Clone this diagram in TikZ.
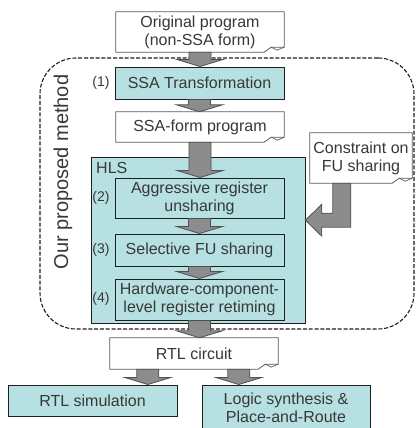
\documentclass[tikz,border=0pt]{standalone}
\usepackage{fontspec}
\setmainfont{Liberation Sans}
\usetikzlibrary{calc,backgrounds}
\definecolor{boxteal}{HTML}{B6E0E2}
\definecolor{textgray}{HTML}{383838}
\definecolor{boxline}{HTML}{1E1E1E}
\definecolor{docline}{HTML}{5A5A5A}
\definecolor{arrowfill}{HTML}{8C8C8C}
\definecolor{arrowline}{HTML}{505050}
\begin{document}
\begin{tikzpicture}[x=1pt,y=-1pt,
  txt/.style={font=\fontsize{16}{18}\selectfont, text=textgray, align=center, inner sep=0pt},
  lbl/.style={font=\fontsize{14}{16}\selectfont, text=textgray, inner sep=0pt},
  proc/.style={txt, draw=boxline, line width=1pt, fill=boxteal, minimum width=169, minimum height=32},
  doc/.style={txt},
  docshape/.style={draw=docline, line width=0.8pt, fill=white},
  hlsframe/.style={draw=boxline, line width=0.9pt, fill=boxteal, inner sep=0pt},
  methodframe/.style={draw=boxline, line width=1.1pt, dash pattern=on 4pt off 1.8pt, rounded corners=36pt, inner sep=0pt},
  blockarrow/.style={draw=arrowline, fill=arrowfill, line width=0.8pt,
    to path={($(\tikztostart)+(-11pt,0pt)$) -- ($(\tikztostart)+(11pt,0pt)$)
      -- ($(\tikztostart |- \tikztotarget)+(11pt,7pt)$) -- ($(\tikztostart |- \tikztotarget)+(23pt,7pt)$)
      -- (\tikztostart |- \tikztotarget)
      -- ($(\tikztostart |- \tikztotarget)+(-23pt,7pt)$) -- ($(\tikztostart |- \tikztotarget)+(-11pt,7pt)$) -- cycle}}
]
\useasboundingbox (0,0) rectangle (417,428);

% main nodes
\node[doc, minimum width=168, minimum height=40] (orig) at (200,32) {Original program\\(non-SSA form)};
\node[proc] (trans) at (199.5,83) {SSA Transformation};
\node[doc, minimum width=168, minimum height=30] (ssaf) at (200,127) {SSA-form program};
\node[proc, minimum height=40] (agg) at (199.5,198) {Aggressive register\\unsharing};
\node[proc] (sel) at (199.5,250) {Selective FU sharing};
\node[proc, minimum height=41] (hw) at (199.5,299.5) {Hardware-component-\\level register retiming};
\node[doc, minimum width=168, minimum height=31] (rtl) at (194,353.5) {RTL circuit};
\node[proc, minimum height=31] (sim) at (92.5,400.5) {RTL simulation};
\node[proc, minimum width=168, minimum height=46] (logic) at (286,408) {Logic synthesis \&\\Place-and-Route};
\node[doc, minimum width=102, minimum height=50] (cons) at (361,158) {Constraint on\\FU sharing};

\node[lbl] (l1) at (101,83) {(1)};
\node[lbl] (l2) at (101,198) {(2)};
\node[lbl] (l3) at (101,250) {(3)};
\node[lbl] (l4) at (101,299) {(4)};
\node[txt, anchor=west] (hlslabel) at (96,168) {HLS};
\node[txt, font=\fontsize{20}{22}\selectfont, rotate=90] (ours) at (63,172) {Our proposed method};

% frames behind the text
\begin{scope}[on background layer]
  \node[methodframe, minimum width=374, minimum height=271] (method) at (227,193.5) {};
  \node[hlsframe, minimum width=214, minimum height=166] (hls) at (198,240) {};
  \foreach \n in {orig,ssaf,rtl,cons}{
    \draw[docshape] (\n.north west) -- (\n.north east) -- ($(\n.south east)+(0,-5)$)
      -- ($(\n.south east)+(-13,-5)$) .. controls ($(\n.south east)+(-16,-3)$) .. ($(\n.south east)+(-20,0)$)
      -- (\n.south west) -- cycle;
    \draw[docline, line width=0.7pt] ($(\n.south east)+(0,-5)$) -- ($(\n.south east)+(-7,-2)$) -- ($(\n.south east)+(-13,-5)$);
  }
\end{scope}

% block arrows
\path[blockarrow] (orig.south) to (trans.north);
\path[blockarrow] (trans.south) to (ssaf.north);
\path[blockarrow] (ssaf.south) to (agg.north);
\path[blockarrow] (agg.south) to (sel.north);
\path[blockarrow] (sel.south) to (hw.north);
\path[blockarrow] (hw.south) to (rtl.north);
\coordinate (rtlL) at ($(rtl.south west)+(38,0)$);
\coordinate (rtlR) at ($(rtl.south west)+(129,0)$);
\path[blockarrow] (rtlL) to (sim.north);
\path[blockarrow] (rtlR) to (logic.north);

% L-shaped arrow from the constraint to HLS
\coordinate (ctipref) at ($(cons.south west)+(0,37)$);
\draw[draw=arrowline, fill=arrowfill, line width=0.8pt]
  ($(cons.south west)+(23,0)$) -- ($(cons.south west)+(41,0)$) -- ($(cons.south west)+(41,44)$)
  -- ($(cons.south west)+(12,44)$) -- ($(cons.south west)+(12,53)$) -- (hls.east |- ctipref)
  -- ($(cons.south west)+(12,21)$) -- ($(cons.south west)+(12,30)$) -- ($(cons.south west)+(23,30)$) -- cycle;
\end{tikzpicture}
\end{document}
